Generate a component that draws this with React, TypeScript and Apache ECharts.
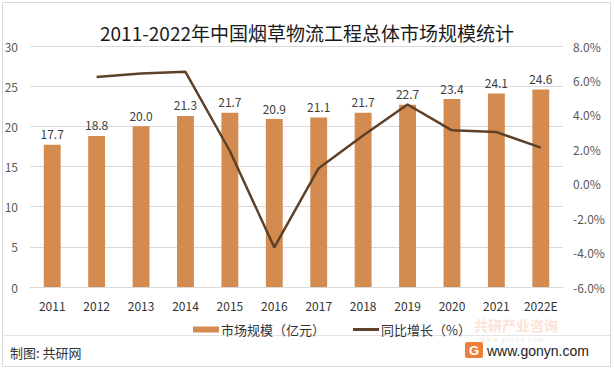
import React, { useEffect, useRef } from "react";
import * as echarts from "echarts";

const categories = ["2011", "2012", "2013", "2014", "2015", "2016", "2017", "2018", "2019", "2020", "2021", "2022E"];
const marketSize = [17.7, 18.8, 20.0, 21.3, 21.7, 20.9, 21.1, 21.7, 22.7, 23.4, 24.1, 24.6];
const growth: (number | null)[] = [null, 6.2, 6.4, 6.5, 1.9, -3.7, 0.9, 2.8, 4.6, 3.1, 3.0, 2.1];

const titleText = "2011-2022年中国烟草物流工程总体市场规模统计";
const barName = "市场规模（亿元）";
const lineName = "同比增长（%）";
const sourceText = "制图: 共研网";
const siteText = "www.gonyn.com";
const brandText = "共研产业咨询";
const brandSiteText = "w w w . g o n y n . c o m";

const FONT = "'Noto Sans CJK SC', 'Noto Sans', sans-serif";

export default function App() {
  const ref = useRef<HTMLDivElement>(null);
  useEffect(() => {
    document.body.style.margin = "0";
    if (!ref.current) return;
    const chart = echarts.init(ref.current, undefined, { renderer: "svg" });
    chart.setOption({
      animation: false,
      backgroundColor: "#ffffff",
      textStyle: { fontFamily: FONT },
      title: {
        text: titleText,
        left: "center",
        top: 18,
        textStyle: { fontSize: 19, fontWeight: "normal", color: "#1a1a1a", fontFamily: FONT },
      },
      legend: {
        left: 188,
        top: 318,
        itemWidth: 26,
        itemHeight: 6,
        itemGap: 28,
        textStyle: { fontSize: 13, color: "#333333", fontFamily: FONT, padding: [0, 0, 0, -3] },
        data: [
          { name: barName, icon: "rect" },
          { name: lineName, icon: "path://M0,0L26,0L26,3L0,3Z" },
        ],
      },
      grid: { left: 30, right: 51, top: 46, bottom: 84, containLabel: false, outerBoundsMode: "none" },
      xAxis: {
        type: "category",
        data: categories,
        axisLine: { show: true, lineStyle: { color: "#d9d9d9" } },
        axisTick: { show: false },
        axisLabel: { color: "#333333", fontSize: 12, margin: 12, fontFamily: FONT, interval: 0 },
      },
      yAxis: [
        {
          type: "value",
          min: 0,
          max: 30,
          interval: 5,
          axisLine: { show: false },
          axisTick: { show: false },
          axisLabel: { color: "#595959", fontSize: 12, margin: 12, fontFamily: FONT },
          splitLine: { lineStyle: { color: "#d9d9d9" } },
        },
        {
          type: "value",
          min: -6,
          max: 8,
          interval: 2,
          position: "right",
          axisLine: { show: false },
          axisTick: { show: false },
          splitLine: { show: false },
          axisLabel: {
            color: "#595959",
            fontSize: 12,
            margin: 10,
            fontFamily: FONT,
            formatter: (v: number) => v.toFixed(1) + "%",
          },
        },
      ],
      series: [
        {
          name: barName,
          type: "bar",
          data: marketSize,
          barWidth: "38%",
          itemStyle: { color: "#D38B4F" },
          label: {
            show: true,
            position: "top",
            distance: 5,
            color: "#404040",
            fontSize: 12,
            fontFamily: FONT,
            formatter: (p: any) => Number(p.value).toFixed(1),
          },
        },
        {
          name: lineName,
          type: "line",
          yAxisIndex: 1,
          data: growth.map((v) => (v === null ? "-" : v)),
          symbol: "none",
          lineStyle: { color: "#5E4129", width: 2.5 },
          itemStyle: { color: "#5E4129" },
        },
      ],
      graphic: [
        {
          type: "rect",
          shape: { x: 2.5, y: 2.5, width: 608, height: 364 },
          style: { fill: "none", stroke: "#d9d9d9", lineWidth: 1 },
          silent: true,
        },
        {
          type: "line",
          shape: { x1: 3, y1: 335.5, x2: 610, y2: 335.5 },
          style: { stroke: "#e3e3e3", lineWidth: 1 },
          silent: true,
        },
        {
          type: "text",
          x: 10,
          y: 352,
          style: { text: sourceText, fontSize: 13, fill: "#333333", fontFamily: FONT, verticalAlign: "middle" },
        },
        {
          type: "text",
          x: 474,
          y: 325,
          style: { text: brandText, fontSize: 14, fontWeight: "bold", fill: "#fbe3d6", fontFamily: FONT, verticalAlign: "middle" },
        },
        {
          type: "text",
          x: 480,
          y: 339,
          style: { text: brandSiteText, fontSize: 6, fill: "#f3e6de", fontFamily: FONT, verticalAlign: "middle" },
        },
        {
          type: "rect",
          shape: { x: 465, y: 342, width: 18, height: 16, r: 2 },
          style: { fill: "#ef7d3c" },
        },
        {
          type: "text",
          x: 474,
          y: 350,
          style: { text: "G", fontSize: 13, fontWeight: "bold", fill: "#ffffff", fontFamily: "'Liberation Sans', Arial, sans-serif", align: "center", verticalAlign: "middle" },
        },
        {
          type: "text",
          x: 487,
          y: 350.5,
          style: { text: siteText, fontSize: 14, fill: "#222222", fontFamily: "'Liberation Sans', Arial, sans-serif", verticalAlign: "middle" },
        },
      ],
    });
    return () => chart.dispose();
  }, []);
  return <div ref={ref} style={{ position: "fixed", left: 0, top: 0, width: 614, height: 371 }} />;
}
